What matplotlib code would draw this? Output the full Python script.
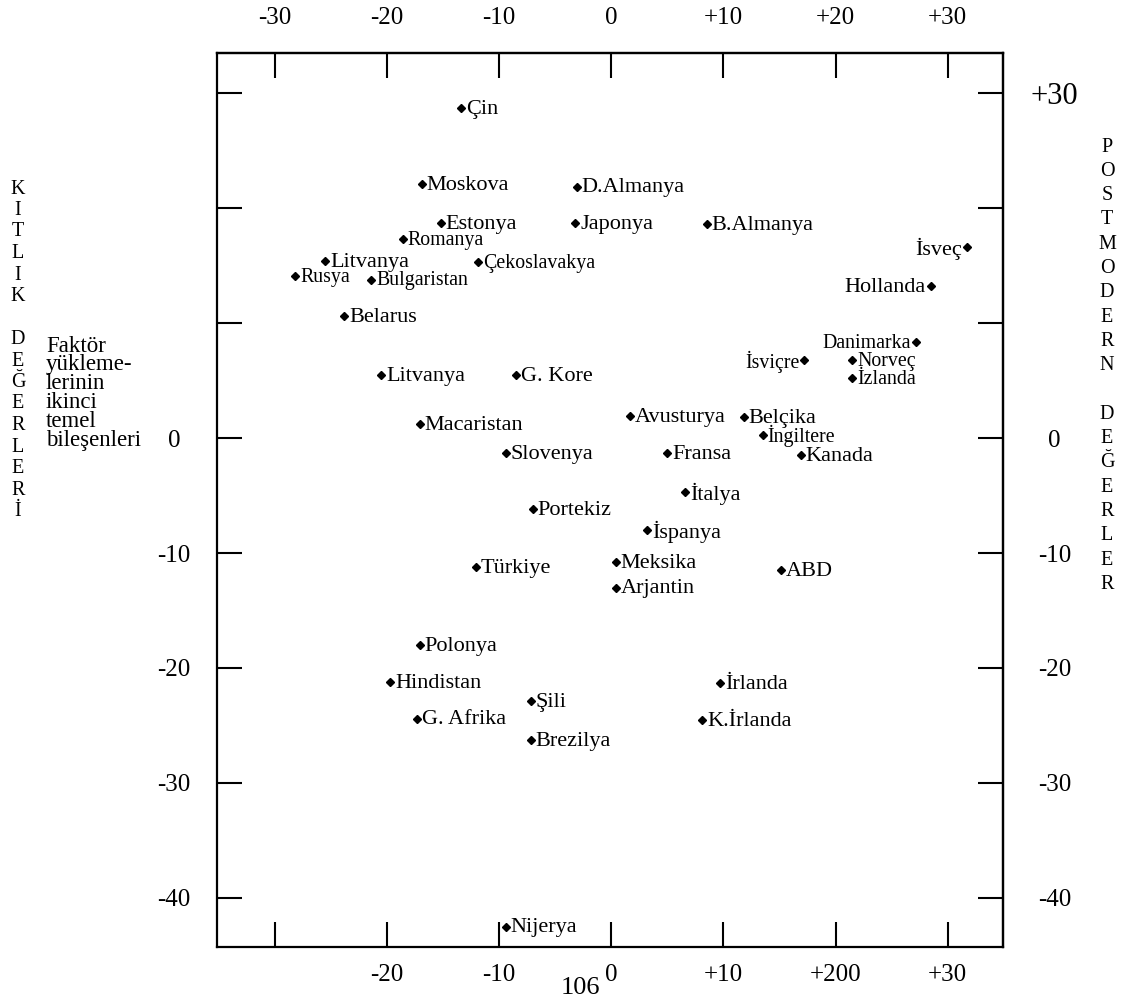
import matplotlib.pyplot as plt

plt.rcParams["font.family"] = ["Liberation Serif", "DejaVu Serif"]

# ülkeler ve iki temel bileşen değerleri
names = ["Çin", "Moskova", "D.Almanya", "Estonya", "Japonya", "B.Almanya",
         "Romanya", "Litvanya", "Çekoslavakya", "Rusya", "Bulgaristan", "İsveç",
         "Hollanda", "Belarus", "Danimarka", "İsviçre", "Norveç", "İzlanda",
         "Litvanya", "G. Kore", "Avusturya", "Belçika", "Macaristan", "İngiltere",
         "Slovenya", "Fransa", "Kanada", "İtalya", "Portekiz", "İspanya",
         "Türkiye", "Meksika", "ABD", "Arjantin", "Polonya", "Hindistan",
         "İrlanda", "Şili", "G. Afrika", "K.İrlanda", "Brezilya", "Nijerya"]
x_vals = [-13.4, -16.9, -3.1, -15.2, -3.2, 8.5,
          -18.6, -25.5, -11.9, -28.2, -21.4, 31.7,
          28.5, -23.8, 27.2, 17.2, 21.5, 21.5,
          -20.5, -8.5, 1.7, 11.8, -17.1, 13.5,
          -9.4, 5.0, 16.9, 6.6, -7.0, 3.2,
          -12.1, 0.4, 15.1, 0.4, -17.1, -19.7,
          9.7, -7.2, -17.3, 8.1, -7.2, -9.4]
y_vals = [28.7, 22.1, 21.9, 18.7, 18.7, 18.6,
          17.3, 15.4, 15.3, 14.1, 13.8, 16.6,
          13.2, 10.6, 8.4, 6.8, 6.8, 5.2,
          5.5, 5.5, 1.9, 1.8, 1.2, 0.3,
          -1.3, -1.3, -1.5, -4.7, -6.2, -8.0,
          -11.2, -10.8, -11.5, -13.0, -18.0, -21.2,
          -21.3, -22.9, -24.4, -24.5, -26.3, -42.5]

# eksen işaretleri
x_ticks = [-30, -20, -10, 0, 10, 20, 30]
top_labels = ["-30", "-20", "-10", "0", "+10", "+20", "+30"]
bottom_labels = ["", "-20", "-10", "0", "+10", "+200", "+30"]
y_ticks = [30, 20, 10, 0, -10, -20, -30, -40]
left_labels = ["", "", "", "0", "-10", "-20", "-30", "-40"]
right_labels = ["+30", "", "", "0", "-10", "-20", "-30", "-40"]

# yazının noktanın solunda ve küçük puntoyla olduğu ülkeler
left_side = ["İsveç", "Hollanda", "Danimarka", "İsviçre"]
small_font = ["Romanya", "Rusya", "Bulgaristan", "Çekoslavakya", "Danimarka",
              "Norveç", "İzlanda", "İngiltere", "İsviçre"]

W, H = 1137, 999
fig = plt.figure(figsize=(W / 100, H / 100), dpi=100)
ax = fig.add_axes([217 / W, 1 - 947 / H, 786 / W, 894 / H])
ax.set_xlim(-35.17, 34.94)
ax.set_ylim(-44.28, 33.52)

for sp in ax.spines.values():
    sp.set_linewidth(1.6)

ax.set_xticks(x_ticks, bottom_labels)
ax.set_yticks(y_ticks, left_labels)
ax.tick_params(axis="x", direction="in", length=18, width=1.5, pad=12, labelsize=18)
ax.tick_params(axis="y", direction="in", length=18, width=1.5, pad=31, labelsize=18)
for lbl in ax.get_yticklabels():
    lbl.set_ha("center")

secx = ax.secondary_xaxis("top")
secx.set_xticks(x_ticks, top_labels)
secx.tick_params(direction="in", length=18, width=1.5, pad=17, labelsize=18)
secx.spines["top"].set_linewidth(1.6)

secy = ax.secondary_yaxis("right")
secy.set_yticks(y_ticks, right_labels)
secy.tick_params(direction="in", length=18, width=1.5, pad=37, labelsize=18)
secy.spines["right"].set_linewidth(1.6)
for lbl in secy.get_yticklabels():
    lbl.set_ha("center")
secy.get_yticklabels()[0].set_fontsize(22)

# noktalar ve isimler
ax.plot(x_vals, y_vals, "D", color="black", ms=4.2, clip_on=False)
for name, x, y in zip(names, x_vals, y_vals):
    fs = 14.3 if name in small_font else 16
    if name in left_side:
        ax.annotate(name, (x, y), xytext=(-3.5, -1), textcoords="offset points",
                    ha="right", va="center", fontsize=fs)
    else:
        ax.annotate(name, (x, y), xytext=(3.5, -1), textcoords="offset points",
                    ha="left", va="center", fontsize=fs)

# sayfa numarası
fig.text(580 / W, 1 - 988 / H, "106", ha="center", va="center", fontsize=19)

# sol dikey başlık
left_title = "KITLIK DEĞERLERİ"
for i, ch in enumerate(left_title):
    fig.text(18 / W, 1 - (189 + i * 21.5) / H, ch, ha="center", va="center", fontsize=14.5)

block = ["Faktör", "yükleme-", "lerinin", "ikinci", "temel", "bileşenleri"]
for i, line in enumerate(block):
    fig.text(46 / W, 1 - (346 + i * 18.8) / H, line, ha="left", va="center", fontsize=16.5)

# sağ dikey başlık
right_title = "POSTMODERN DEĞERLER"
for i, ch in enumerate(right_title):
    fig.text(1107 / W, 1 - (147 + i * 24.3) / H, ch, ha="center", va="center", fontsize=14.5)

fig.savefig("out.png", dpi=100)
